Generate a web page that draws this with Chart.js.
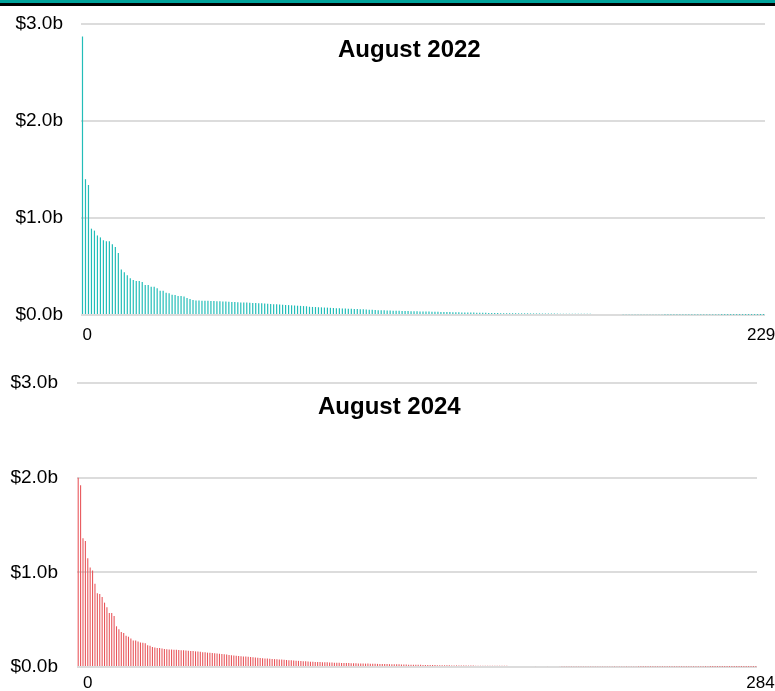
<!DOCTYPE html>
<html>
<head>
<meta charset="utf-8">
<script src="https://cdn.jsdelivr.net/npm/chart.js@4/dist/chart.umd.min.js"></script>
<style>
  body { margin: 0; background: #fff; width: 775px; height: 691px; position: relative; overflow: hidden; font-family: "Liberation Sans", Arial, sans-serif; }
  .band-teal { position: absolute; left: 0; top: 0; width: 775px; height: 3px; background: #00a39b; }
  .band-black { position: absolute; left: 0; top: 3px; width: 775px; height: 3px; background: #000; }
  .box { position: absolute; left: 0; width: 775px; }
  .title { position: absolute; font-weight: bold; font-size: 24px; line-height: 24px; color: #000; white-space: nowrap; }
</style>
</head>
<body>
<div class="band-teal"></div>
<div class="band-black"></div>
<div class="box" style="top:0;height:345px"><canvas id="chart2022" width="775" height="345"></canvas></div>
<div class="box" style="top:345px;height:346px"><canvas id="chart2024" width="775" height="346"></canvas></div>
<div class="title" style="left:338px;top:37px">August 2022</div>
<div class="title" style="left:318px;top:394px">August 2024</div>
<script>
// values in $ billions, sorted largest to smallest
const values2022 = [
  2.87, 1.40, 1.34, 0.89, 0.87, 0.82, 0.80, 0.77, 0.76, 0.76,
  0.73, 0.70, 0.64, 0.47, 0.44, 0.41, 0.38, 0.36, 0.35, 0.35,
  0.34, 0.31, 0.31, 0.29, 0.29, 0.275, 0.25, 0.25, 0.23, 0.225,
  0.21, 0.205, 0.195, 0.195, 0.19, 0.175, 0.165, 0.155, 0.15, 0.15,
  0.148, 0.147, 0.146, 0.145, 0.144, 0.143, 0.142, 0.14, 0.138, 0.137,
  0.135, 0.133, 0.132, 0.13, 0.129, 0.128, 0.127, 0.125, 0.123, 0.121,
  0.12, 0.118, 0.116, 0.114, 0.112, 0.11, 0.108, 0.106, 0.104, 0.102,
  0.1, 0.098, 0.096, 0.094, 0.092, 0.09, 0.085, 0.083, 0.082, 0.08,
  0.079, 0.077, 0.076, 0.074, 0.072, 0.07, 0.069, 0.068, 0.066, 0.065,
  0.064, 0.062, 0.061, 0.06, 0.058, 0.057, 0.055, 0.054, 0.052, 0.05,
  0.049, 0.048, 0.047, 0.046, 0.045, 0.044, 0.043, 0.042, 0.041, 0.04,
  0.039, 0.039, 0.038, 0.037, 0.036, 0.036, 0.035, 0.034, 0.033, 0.033,
  0.032, 0.031, 0.031, 0.03, 0.029, 0.029, 0.028, 0.027, 0.027, 0.026,
  0.025, 0.025, 0.024, 0.023, 0.023, 0.022, 0.021, 0.021, 0.02, 0.02,
  0.019, 0.019, 0.019, 0.018, 0.018, 0.018, 0.017, 0.017, 0.017, 0.017,
  0.016, 0.016, 0.016, 0.016, 0.015, 0.015, 0.015, 0.015, 0.015, 0.014,
  0.014, 0.014, 0.014, 0.013, 0.013, 0.013, 0.013, 0.012, 0.012, 0.012,
  0.012, 0.011, 0.011, 0.011, 0.011, 0.011, 0.01, 0.01, 0.01, 0.01,
  0.01, 0.009, 0.009, 0.009, 0.009, 0.008, 0.008, 0.008, 0.008, 0.008,
  0.007, 0.007, 0.007, 0.007, 0.007, 0.006, 0.006, 0.006, 0.006, 0.006,
  0.006, 0.005, 0.005, 0.005, 0.005, 0.005, 0.005, 0.004, 0.004, 0.004,
  0.004, 0.004, 0.004, 0.004, 0.003, 0.003, 0.003, 0.003, 0.003, 0.003,
  0.003, 0.002, 0.002, 0.002, 0.002, 0.002, 0.002, 0.001, 0.001
];

const values2024 = [
  2.00, 1.92, 1.36, 1.33, 1.15, 1.05, 1.02, 0.88, 0.78, 0.77,
  0.74, 0.68, 0.63, 0.57, 0.57, 0.54, 0.43, 0.40, 0.37, 0.36,
  0.33, 0.32, 0.30, 0.28, 0.28, 0.27, 0.26, 0.255, 0.25, 0.23,
  0.225, 0.21, 0.205, 0.2, 0.2, 0.195, 0.19, 0.188, 0.186, 0.185,
  0.183, 0.182, 0.18, 0.178, 0.176, 0.174, 0.172, 0.17, 0.168, 0.165,
  0.163, 0.16, 0.157, 0.155, 0.152, 0.15, 0.147, 0.145, 0.142, 0.14,
  0.137, 0.134, 0.131, 0.128, 0.125, 0.122, 0.12, 0.117, 0.114, 0.112,
  0.11, 0.108, 0.105, 0.103, 0.1, 0.098, 0.095, 0.093, 0.091, 0.089,
  0.087, 0.085, 0.083, 0.081, 0.079, 0.078, 0.076, 0.074, 0.072, 0.07,
  0.068, 0.066, 0.065, 0.063, 0.061, 0.06, 0.058, 0.056, 0.055, 0.054,
  0.053, 0.052, 0.051, 0.05, 0.049, 0.048, 0.047, 0.046, 0.045, 0.044,
  0.043, 0.043, 0.042, 0.041, 0.04, 0.04, 0.039, 0.038, 0.038, 0.037,
  0.036, 0.036, 0.035, 0.034, 0.034, 0.033, 0.033, 0.032, 0.031, 0.031,
  0.03, 0.03, 0.029, 0.028, 0.028, 0.027, 0.027, 0.026, 0.025, 0.025,
  0.024, 0.024, 0.023, 0.023, 0.022, 0.022, 0.021, 0.021, 0.02, 0.02,
  0.019, 0.019, 0.019, 0.018, 0.018, 0.018, 0.017, 0.017, 0.017, 0.016,
  0.016, 0.016, 0.015, 0.015, 0.015, 0.015, 0.014, 0.014, 0.014, 0.014,
  0.013, 0.013, 0.013, 0.013, 0.012, 0.012, 0.012, 0.012, 0.012, 0.012,
  0.011, 0.011, 0.011, 0.011, 0.011, 0.011, 0.011, 0.011, 0.011, 0.011,
  0.01, 0.01, 0.01, 0.01, 0.01, 0.01, 0.01, 0.01, 0.01, 0.01,
  0.01, 0.01, 0.009, 0.009, 0.009, 0.009, 0.009, 0.009, 0.009, 0.009,
  0.009, 0.009, 0.009, 0.009, 0.008, 0.008, 0.008, 0.008, 0.008, 0.008,
  0.008, 0.008, 0.008, 0.008, 0.007, 0.007, 0.007, 0.007, 0.007, 0.007,
  0.007, 0.007, 0.007, 0.007, 0.006, 0.006, 0.006, 0.006, 0.006, 0.006,
  0.006, 0.006, 0.006, 0.006, 0.005, 0.005, 0.005, 0.005, 0.005, 0.005,
  0.005, 0.005, 0.005, 0.005, 0.004, 0.004, 0.004, 0.004, 0.004, 0.004,
  0.004, 0.004, 0.004, 0.004, 0.003, 0.003, 0.003, 0.003, 0.003, 0.003,
  0.003, 0.003, 0.003, 0.003, 0.002, 0.002, 0.002, 0.002, 0.002, 0.002,
  0.002, 0.002, 0.002, 0.002
];

// first / last x tick labels
const xTicks2022 = ['0', '229'];
const xTicks2024 = ['0', '284'];
const yTicks = [0, 1, 2, 3];

function makeChart(id, values, xTicks, color, opts) {
    const ctx = document.getElementById(id).getContext('2d');
    const labels = values.map((v, i) => String(i + 1)); // rank
    return new Chart(ctx, {
        type: 'bar',
        data: {
            labels: labels,
            datasets: [{
                data: values,
                backgroundColor: color,
                borderWidth: 0,
                barPercentage: opts.barPct,
                categoryPercentage: 1
            }]
        },
        options: {
            responsive: false,
            animation: false,
            devicePixelRatio: 1,
            layout: {
                padding: { top: opts.top, right: opts.right, left: 0, bottom: 0 }
            },
            plugins: {
                legend: { display: false },
                tooltip: { enabled: false }
            },
            scales: {
                x: {
                    grid: { display: false, drawTicks: false },
                    border: { display: false },
                    ticks: {
                        autoSkip: false,
                        maxRotation: 0,
                        minRotation: 0,
                        padding: opts.xPad,
                        color: '#000',
                        font: { family: 'Liberation Sans', size: 17 },
                        // spaces nudge the end labels off the bar centres, as in the source
                        callback: function (val, i, ticks) {
                            if (i === 0) return ' '.repeat(opts.firstLead) + xTicks[0];
                            if (i === ticks.length - 1) return ' '.repeat(opts.lastLead) + xTicks[1] + ' '.repeat(opts.lastTrail);
                            return '';
                        }
                    },
                    afterFit: function (scale) {
                        scale.height = opts.xHeight;
                        scale.paddingLeft = 0;
                        scale.paddingRight = 0;
                    }
                },
                y: {
                    min: yTicks[0],
                    max: yTicks[yTicks.length - 1],
                    border: { display: false },
                    grid: { color: '#dcdcdc', lineWidth: 2, drawTicks: false },
                    ticks: {
                        stepSize: 1,
                        padding: opts.yPad,
                        color: '#000',
                        font: { family: 'Liberation Sans', size: 19 },
                        callback: v => '$' + v.toFixed(1) + 'b'
                    },
                    afterFit: function (scale) {
                        scale.width = opts.yWidth;
                        scale.paddingTop = 0;
                        scale.paddingBottom = 0;
                    }
                }
            }
        }
    });
}

document.addEventListener('DOMContentLoaded', function () {
    makeChart('chart2022', values2022, xTicks2022, '#22bdb8',
        { barPct: 0.4, top: 24, right: 10, xPad: 10, xHeight: 30, yWidth: 81, yPad: 18,
          firstLead: 2, lastLead: 0, lastTrail: 1 });
    makeChart('chart2024', values2024, xTicks2024, '#e8555a',
        { barPct: 0.45, top: 38, right: 18, xPad: 6, xHeight: 24, yWidth: 77, yPad: 19,
          firstLead: 4, lastLead: 2, lastTrail: 0 });
});
</script>
</body>
</html>
